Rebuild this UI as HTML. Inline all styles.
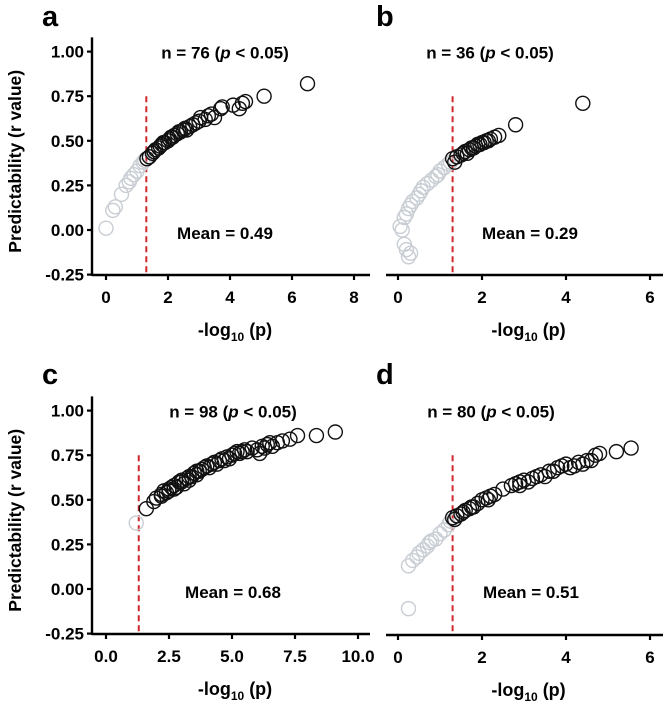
<!DOCTYPE html>
<html><head><meta charset="utf-8"><style>
html,body{margin:0;padding:0;background:#fff;}
svg{display:block;font-family:"Liberation Sans",Arial,sans-serif;font-weight:bold;}
</style></head><body>
<svg id="chart" width="665" height="704" viewBox="0 0 665 704"></svg>
<script>
// Panel a data
const aGrayX=[0,0.22,0.3,0.5,0.65,0.75,0.8,0.9,1.0,1.1,1.2,1.25];
const aGrayY=[0.01,0.11,0.13,0.2,0.25,0.27,0.29,0.31,0.33,0.36,0.38,0.39];
const aSigX=[1.32,1.4,1.5,1.55,1.6,1.7,1.75,1.8,1.85,1.9,2.0,2.05,2.1,2.15,2.2,2.3,2.35,2.4,2.5,2.55,2.6,2.7,2.8,2.9,3.0,3.05,3.2,3.3,3.4,3.5,3.7,3.75,4.1,4.3,4.4,4.5,5.1,6.5];
const aSigY=[0.40,0.41,0.43,0.44,0.45,0.46,0.47,0.48,0.49,0.49,0.5,0.51,0.52,0.52,0.53,0.54,0.55,0.55,0.56,0.57,0.56,0.58,0.59,0.6,0.61,0.63,0.62,0.64,0.65,0.63,0.68,0.69,0.70,0.68,0.71,0.72,0.75,0.82];
// Panel b data
const bGrayX=[0.25,0.3,0.2,0.15,0.1,0.05,0.15,0.2,0.25,0.3,0.35,0.45,0.5,0.55,0.6,0.7,0.8,0.9,0.95,1.0,1.1,1.2,1.25];
const bGrayY=[-0.15,-0.13,-0.11,-0.08,0.0,0.02,0.07,0.09,0.12,0.14,0.16,0.18,0.2,0.22,0.24,0.26,0.28,0.3,0.31,0.33,0.35,0.37,0.38];
const bSigX=[1.3,1.35,1.4,1.5,1.55,1.6,1.65,1.7,1.75,1.8,1.85,1.9,1.95,2.0,2.05,2.1,2.15,2.2,2.3,2.4,2.8,4.4];
const bSigY=[0.40,0.38,0.41,0.42,0.43,0.44,0.43,0.45,0.46,0.46,0.47,0.48,0.48,0.49,0.49,0.5,0.5,0.51,0.52,0.53,0.59,0.71];
// Panel c data
const cGrayX=[1.2];
const cGrayY=[0.37];
const cSigX=[1.6,1.9,2.0,2.2,2.3,2.4,2.5,2.6,2.7,2.8,2.9,3.0,3.1,3.2,3.3,3.4,3.5,3.6,3.7,3.8,3.9,4.0,4.1,4.2,4.3,4.5,4.6,4.7,4.8,5.0,5.1,5.2,5.3,5.5,5.6,5.8,6.0,6.1,6.2,6.4,6.5,6.6,6.8,7.0,7.3,7.6,8.35,9.1,2.2,2.5,2.7,3.0,3.3,3.6,4.4,4.9,5.4,6.3];
const cSigY=[0.45,0.49,0.51,0.53,0.55,0.54,0.56,0.57,0.58,0.57,0.6,0.61,0.59,0.62,0.63,0.63,0.65,0.64,0.66,0.67,0.68,0.69,0.68,0.7,0.71,0.72,0.73,0.72,0.74,0.75,0.76,0.77,0.76,0.78,0.77,0.79,0.78,0.76,0.8,0.81,0.82,0.8,0.82,0.83,0.84,0.86,0.86,0.88,0.52,0.55,0.56,0.6,0.61,0.66,0.7,0.73,0.77,0.79];
// Panel d data
const dGrayX=[0.25,0.25,0.35,0.45,0.5,0.6,0.7,0.75,0.8,0.9,1.0,1.1,1.2,1.25];
const dGrayY=[-0.11,0.13,0.16,0.18,0.2,0.22,0.24,0.26,0.27,0.28,0.31,0.33,0.36,0.38];
const dSigX=[1.3,1.35,1.4,1.5,1.6,1.7,1.8,1.9,2.0,2.1,2.2,2.3,2.5,2.7,2.8,2.9,3.0,3.1,3.2,3.3,3.4,3.5,3.6,3.7,3.8,3.9,4.0,4.1,4.2,4.3,4.4,4.5,4.6,4.7,4.8,5.2,5.55,1.55,1.75,2.15,2.9];
const dSigY=[0.4,0.39,0.41,0.42,0.44,0.45,0.46,0.48,0.5,0.51,0.52,0.53,0.56,0.58,0.59,0.6,0.61,0.6,0.62,0.63,0.64,0.63,0.66,0.66,0.68,0.69,0.7,0.68,0.69,0.71,0.7,0.72,0.72,0.75,0.76,0.77,0.79,0.43,0.46,0.5,0.58];
const yTicks=[1.00,0.75,0.50,0.25,0.00,-0.25];
const aXTicks=[0,2,4,6,8];
const bXTicks=[0,2,4,6];
const cXTicks=[0,2.5,5,7.5,10];
const dXTicks=[0,2,4,6];

const NS="http://www.w3.org/2000/svg";
const svg=document.getElementById('chart');
function mk(tag,attrs,parent){const e=document.createElementNS(NS,tag);for(const k in attrs)e.setAttribute(k,attrs[k]);(parent||svg).appendChild(e);return e;}

const panels=[
 {id:'a',x0:106,xs:31,ax0:92,ax1:370,y0:230,axY:275,ticks:aXTicks,fmt:v=>String(v),yAxis:true,gx:aGrayX,gy:aGrayY,sx:aSigX,sy:aSigY,n:'76',mean:'0.49',tx:225,mx:225,letter:[42,26]},
 {id:'b',x0:398,xs:42,ax0:386,ax1:663,y0:230,axY:275,ticks:bXTicks,fmt:v=>String(v),yAxis:false,gx:bGrayX,gy:bGrayY,sx:bSigX,sy:bSigY,n:'36',mean:'0.29',tx:490,mx:530,letter:[376,26]},
 {id:'c',x0:106,xs:25.2,ax0:92,ax1:370,y0:589,axY:634,ticks:cXTicks,fmt:v=>v.toFixed(1),yAxis:true,gx:cGrayX,gy:cGrayY,sx:cSigX,sy:cSigY,n:'98',mean:'0.68',tx:233,mx:233,letter:[42,384]},
 {id:'d',x0:398,xs:42,ax0:386,ax1:663,y0:589,axY:635,ticks:dXTicks,fmt:v=>String(v),yAxis:false,gx:dGrayX,gy:dGrayY,sx:dSigX,sy:dSigY,n:'80',mean:'0.51',tx:491,mx:531,letter:[376,384]}
];
const YS=178.4;
panels.forEach(p=>{
 const g=mk('g',{});
 
 
 const X=v=>p.x0+v*p.xs, Y=v=>p.y0-v*YS;
 const L=mk('text',{x:p.letter[0],y:p.letter[1],'font-size':29},g);L.textContent=p.id;
 
 
 const xa=mk('line',{x1:p.ax0,x2:p.ax1,y1:p.axY,y2:p.axY,stroke:'#000','stroke-width':2.4},g);
 
 
 p.ticks.forEach(t=>{
  mk('line',{x1:X(t),x2:X(t),y1:p.axY,y2:p.axY+5,stroke:'#000','stroke-width':2.2},g);
  const tl=mk('text',{x:X(t),y:p.axY+28,'font-size':17,'text-anchor':'middle'},g);tl.textContent=p.fmt(t);
  
  
 });
 const xt=mk('text',{x:(p.ax0+p.ax1)/2+4,y:p.axY+61,'font-size':18,'text-anchor':'middle'},g);
 xt.innerHTML='-log<tspan font-size="12" dy="5">10</tspan><tspan dy="-5"> (p)</tspan>';
 
 
 if(p.yAxis){
  const ya=mk('line',{x1:p.ax0,x2:p.ax0,y1:Y(1.08),y2:p.axY+1,stroke:'#000','stroke-width':2.4},g);
  
  
  yTicks.forEach(t=>{
   mk('line',{x1:p.ax0-5,x2:p.ax0,y1:Y(t),y2:Y(t),stroke:'#000','stroke-width':2.2},g);
   const tl=mk('text',{x:p.ax0-8,y:Y(t)+6,'font-size':17,'text-anchor':'end'},g);tl.textContent=t.toFixed(2);
   
   
  });
  const cy=(Y(1)+p.axY)/2-2;
  const yt=mk('text',{x:0,y:0,'font-size':17.5,'text-anchor':'middle',transform:`translate(21,${cy}) rotate(-90)`},g);
  yt.textContent='Predictability (r value)';
  
  
 }
 const rl=mk('line',{x1:X(1.3),x2:X(1.3),y1:Y(0.75),y2:p.axY,stroke:'#d0282e','stroke-width':2,'stroke-dasharray':'6,4'},g);
 
 
 p.gx.forEach((v,i)=>{
  const c=mk('circle',{cx:X(v),cy:Y(p.gy[i]),r:7,fill:'none',stroke:'#c9ced4','stroke-width':1.4},g);
  
  
 });
 p.sx.forEach((v,i)=>{
  const c=mk('circle',{cx:X(v),cy:Y(p.sy[i]),r:7,fill:'none',stroke:'#111','stroke-width':1.4},g);
  
  
 });
 const nt=mk('text',{x:p.tx,y:p.y0-178.4+7,'font-size':17,'text-anchor':'middle'},g);
 nt.innerHTML='n = '+p.n+' (<tspan font-style="italic">p</tspan> &lt; 0.05)';
 
 
 const mt=mk('text',{x:p.mx,y:p.y0+9,'font-size':17,'text-anchor':'middle'},g);
 mt.textContent='Mean = '+p.mean;
 
 
});
</script>
</body></html>
